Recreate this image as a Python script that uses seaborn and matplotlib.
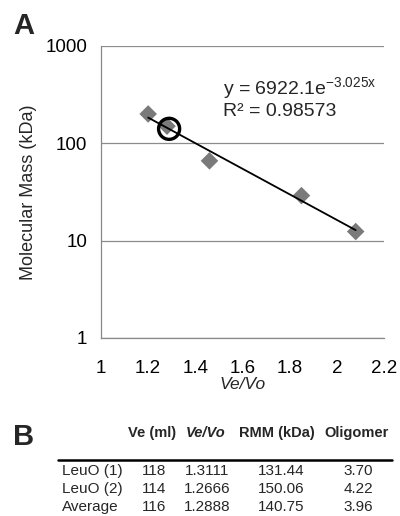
import numpy as np
import pandas as pd
import seaborn as sns
import matplotlib.pyplot as plt

# standards (panel A)
ve_vo = [1.20, 1.28, 1.46, 1.85, 2.08]
mass_kda = [200, 150, 66, 29, 12.4]

# LeuO average point
leuo_x = [1.2888]
leuo_y = [140.75]

# fit parameters
fit_a = 6922.1
fit_b = -3.025

# table (panel B)
col_labels = ["Ve (ml)", "Ve/Vo", "RMM (kDa)", "Oligomer"]
row_labels = ["LeuO (1)", "LeuO (2)", "Average"]
ve_ml = ["118", "114", "116"]
ratio = ["1.3111", "1.2666", "1.2888"]
rmm = ["131.44", "150.06", "140.75"]
oligomer = ["3.70", "4.22", "3.96"]

sns.set_style("white")
plt.rcParams['font.family'] = ['Liberation Sans', 'DejaVu Sans']
plt.rcParams['mathtext.fontset'] = 'custom'
plt.rcParams['mathtext.rm'] = 'Liberation Sans'
plt.rcParams['mathtext.default'] = 'regular'

fig = plt.figure(figsize=(4, 5.16), dpi=100)
ax = fig.add_axes([0.2525, 0.345, 0.7075, 0.566])

df = pd.DataFrame({"x": ve_vo, "y": mass_kda})
sns.scatterplot(data=df, x="x", y="y", marker="D", s=80, color="#7a7a7a",
                edgecolor="none", ax=ax, zorder=3)

fit_x = np.array([min(ve_vo), max(ve_vo)])
fit_df = pd.DataFrame({"x": fit_x, "y": fit_a * np.exp(fit_b * fit_x)})
sns.lineplot(data=fit_df, x="x", y="y", color="black", linewidth=1.3, ax=ax, zorder=4)

ax.scatter(leuo_x, leuo_y, s=230, facecolors="none", edgecolors="black",
           linewidths=2.4, zorder=5)

ax.set_yscale("log")
ax.set_ylim(1, 1000)
ax.set_xlim(1, 2.2)
ax.set_xticks([1, 1.2, 1.4, 1.6, 1.8, 2, 2.2])
ax.set_xticklabels(["1", "1.2", "1.4", "1.6", "1.8", "2", "2.2"])
ax.set_yticks([1, 10, 100, 1000])
ax.set_yticklabels(["1", "10", "100", "1000"])
ax.minorticks_off()
ax.yaxis.grid(True, color="#8c8c8c", linewidth=0.9)
ax.tick_params(axis="both", labelsize=13.5, colors="#888888", labelcolor="black")
ax.tick_params(axis="x", direction="out", length=5, pad=11)
ax.tick_params(axis="y", length=5, direction="out", pad=5)
for side in ["top", "right"]:
    ax.spines[side].set_visible(False)
for side in ["left", "bottom"]:
    ax.spines[side].set_color("#888888")
    ax.spines[side].set_linewidth(0.9)

ax.set_xlabel("Ve/Vo", fontsize=12.5, style="italic", labelpad=0)
ax.set_ylabel("Molecular Mass (kDa)", fontsize=13, labelpad=6)

ax.text(0.43, 0.745, "y = 6922.1e$^{-3.025x}$\nR² = 0.98573", transform=ax.transAxes,
        fontsize=14, va="bottom", ha="left", linespacing=1.15)

fig.text(13 / 400, 1 - 34 / 516, "A", fontsize=21, fontweight="bold")
fig.text(13 / 400, 1 - 445 / 516, "B", fontsize=21, fontweight="bold")

# table
hdr_y = 1 - 433 / 516
hdr_x = [152, 206, 277, 357]
for lbl, x in zip(col_labels, hdr_x):
    fig.text(x / 400, hdr_y, lbl, fontsize=10.5, fontweight="bold",
             style="italic" if lbl == "Ve/Vo" else "normal", ha="center", va="center")
fig.add_artist(plt.Line2D([58 / 400, 392 / 400], [1 - 460 / 516] * 2,
                          color="black", linewidth=1.8, transform=fig.transFigure))
row_y = [471, 489, 507]
for i, y in enumerate(row_y):
    yy = 1 - y / 516
    fig.text(62 / 400, yy, row_labels[i], fontsize=11, ha="left", va="center")
    fig.text(154 / 400, yy, ve_ml[i], fontsize=11, ha="center", va="center")
    fig.text(207 / 400, yy, ratio[i], fontsize=11, ha="center", va="center")
    fig.text(281 / 400, yy, rmm[i], fontsize=11, ha="center", va="center")
    fig.text(358 / 400, yy, oligomer[i], fontsize=11, ha="center", va="center")

fig.savefig("out.png", dpi=100)
